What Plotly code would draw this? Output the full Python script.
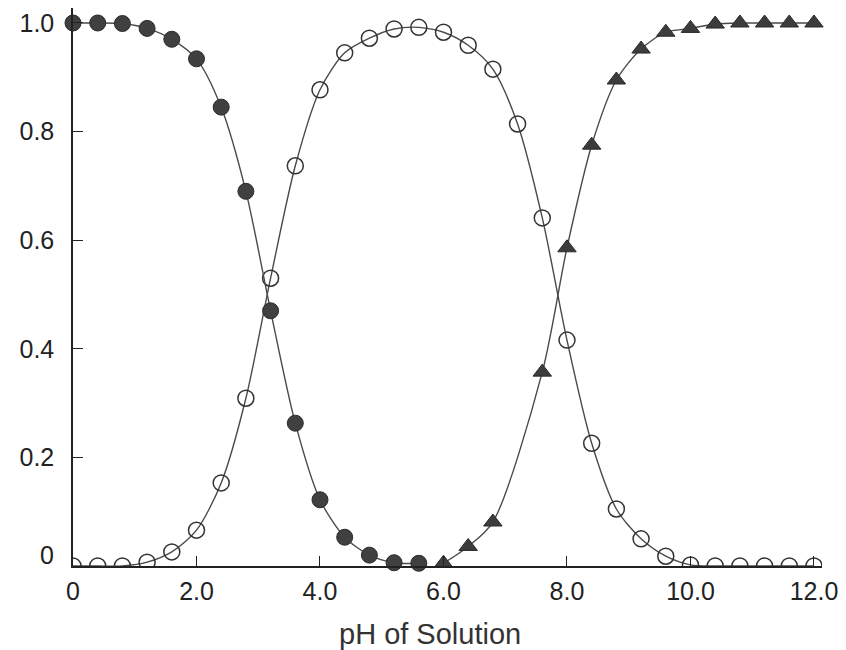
import plotly.graph_objects as go

# pH values of the sampled points
ph_h2a = [0, 0.4, 0.8, 1.2, 1.6, 2.0, 2.4, 2.8, 3.2, 3.6, 4.0, 4.4, 4.8, 5.2, 5.6]
frac_h2a = [1.0, 1.0, 0.999, 0.99, 0.97, 0.934, 0.845, 0.69, 0.47, 0.263, 0.122, 0.053, 0.02, 0.006, 0.005]

ph_ha = [0, 0.4, 0.8, 1.2, 1.6, 2.0, 2.4, 2.8, 3.2, 3.6, 4.0, 4.4, 4.8, 5.2, 5.6,
         6.0, 6.4, 6.8, 7.2, 7.6, 8.0, 8.4, 8.8, 9.2, 9.6, 10.0, 10.4, 10.8, 11.2, 11.6, 12.0]
frac_ha = [0.0, 0.0, 0.0, 0.007, 0.026, 0.066, 0.153, 0.309, 0.53, 0.737, 0.877, 0.945, 0.972, 0.989, 0.992,
           0.983, 0.959, 0.915, 0.814, 0.641, 0.416, 0.226, 0.105, 0.05, 0.018, 0.002, 0.0, 0.0, 0.0, 0.0, 0.0]

ph_a = [6.0, 6.4, 6.8, 7.6, 8.0, 8.4, 8.8, 9.2, 9.6, 10.0, 10.4, 10.8, 11.2, 11.6, 12.0]
frac_a = [0.005, 0.036, 0.081, 0.357, 0.586, 0.775, 0.895, 0.952, 0.983, 0.99, 0.998, 1.0, 1.0, 1.0, 1.0]

x_ticks = [0, 2, 4, 6, 8, 10, 12]
x_ticklabels = ["0", "2.0", "4.0", "6.0", "8.0", "10.0", "12.0"]
y_ticks = [0.2, 0.4, 0.6, 0.8, 1.0]
y_ticklabels = ["0.2", "0.4", "0.6", "0.8", "1.0"]
y_zero_label = "0"
x_title = "pH of Solution"

LINE = dict(color="#4a4a4a", width=1.4, shape="spline", smoothing=0.8)
FONT = "Liberation Sans, Arial, sans-serif"
TICKCOLOR = "#222222"

fig = go.Figure()
fig.add_trace(go.Scatter(
    x=ph_ha, y=frac_ha, mode="lines+markers", line=LINE, cliponaxis=True,
    marker=dict(symbol="circle-open", size=16, color="#333333", line=dict(width=1.5, color="#333333")),
    showlegend=False))
fig.add_trace(go.Scatter(
    x=ph_h2a, y=frac_h2a, mode="lines+markers", line=LINE, cliponaxis=False,
    marker=dict(symbol="circle", size=16, color="#404040", line=dict(width=1, color="#2a2a2a")),
    showlegend=False))
fig.add_trace(go.Scatter(
    x=ph_a, y=frac_a, mode="lines+markers", line=LINE, cliponaxis=False,
    marker=dict(symbol="triangle-up", size=16, color="#3c3c3c", line=dict(width=1, color="#2a2a2a")),
    showlegend=False))

axis_common = dict(showgrid=False, zeroline=False, showline=True, linecolor="#222222", linewidth=1.5,
                   ticks="inside", ticklen=10, tickwidth=1.3, tickcolor="#222222",
                   tickfont=dict(family=FONT, size=25, color=TICKCOLOR))

fig.update_xaxes(range=[0, 12.13], tickvals=x_ticks, ticktext=x_ticklabels,
                 ticklabelstandoff=2, **axis_common)
fig.update_yaxes(range=[0, 1.0276], tickvals=y_ticks, ticktext=y_ticklabels,
                 ticklabelstandoff=12, **axis_common)

# the "0" label of the y axis sits slightly above its tick in the original
fig.add_annotation(text=y_zero_label, xref="paper", yref="y", x=0, y=0,
                   xanchor="right", yanchor="middle", xshift=-17, yshift=11, showarrow=False,
                   font=dict(family=FONT, size=25, color=TICKCOLOR))

fig.add_annotation(text=x_title, xref="paper", yref="paper", x=0.476, y=-0.1219,
                   xanchor="center", yanchor="middle", showarrow=False,
                   font=dict(family=FONT, size=29, color="#333333"))

fig.update_layout(width=846, height=650, margin=dict(l=73, r=21, t=8, b=84),
                  plot_bgcolor="white", paper_bgcolor="white")

fig.write_html("out.html", config={"displayModeBar": False},
               post_script="document.body.style.margin='0';document.body.style.overflow='hidden';")
